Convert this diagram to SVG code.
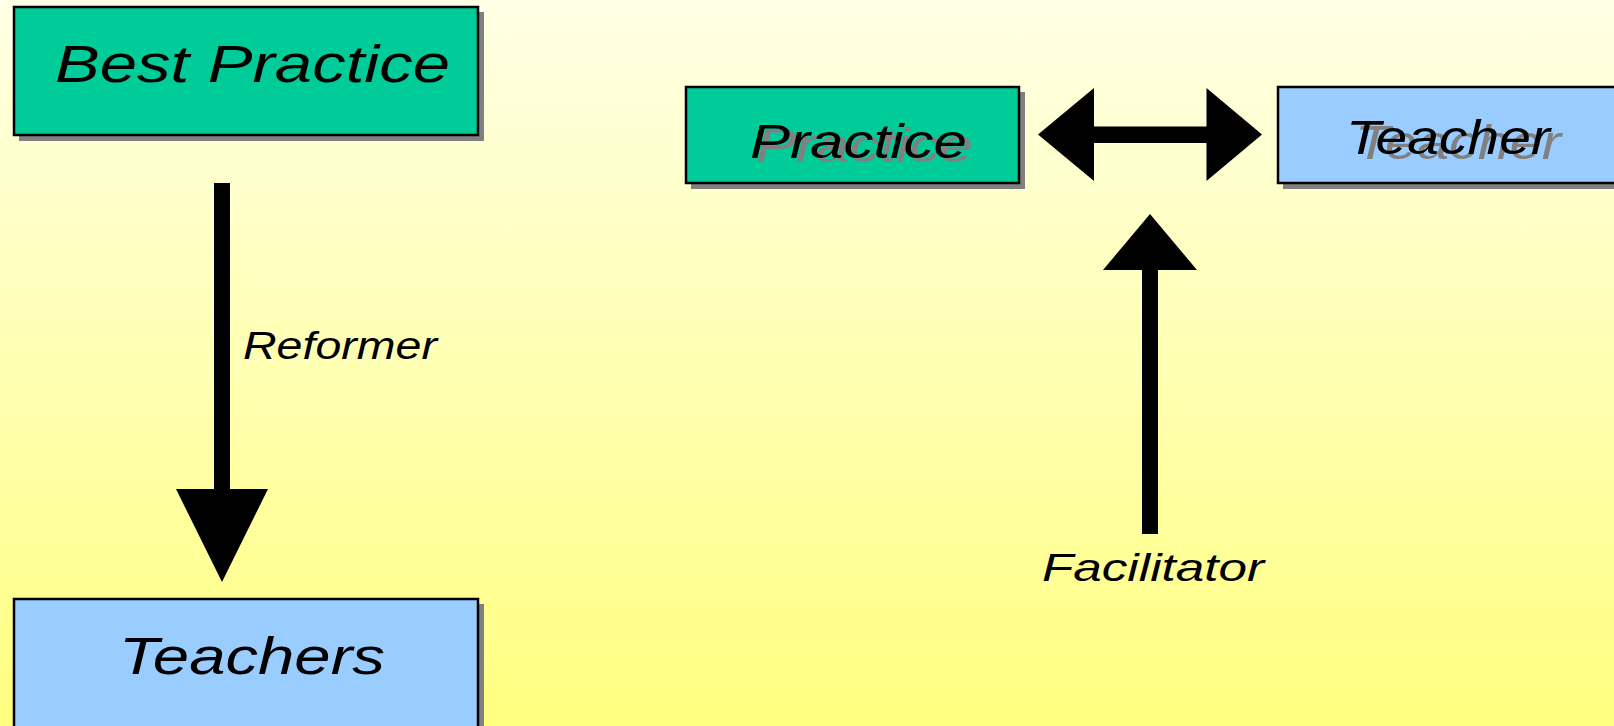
<svg xmlns="http://www.w3.org/2000/svg" width="1614" height="726" viewBox="0 0 1614 726">
  <defs>
    <linearGradient id="bg" x1="0" y1="0" x2="0" y2="1">
      <stop offset="0" stop-color="#FFFFE6"/>
      <stop offset="1" stop-color="#FFFF80"/>
    </linearGradient>
    <style>
      .box-green { fill: #00CC99; stroke: #000000; stroke-width: 2.5; }
      .box-blue { fill: #99CCFF; stroke: #000000; stroke-width: 2.5; }
      .shadow { fill: #808080; }
      .lbl { font-family: "Liberation Sans", Arial, sans-serif; font-style: italic; fill: #000000; }
      .lbl-shadow { font-family: "Liberation Sans", Arial, sans-serif; font-style: italic; fill: #808080; }
      .arrow { fill: #000000; stroke: none; }
    </style>
  </defs>

  <rect x="0" y="0" width="1614" height="726" fill="url(#bg)"/>

  <g id="node-best-practice">
    <rect class="shadow" x="19" y="12" width="465" height="129"/>
    <rect class="box-green" x="14" y="7" width="464" height="128"/>
    <text class="lbl" x="55" y="82" font-size="51" textLength="395" lengthAdjust="spacingAndGlyphs">Best Practice</text>
  </g>

  <g id="node-teachers">
    <rect class="shadow" x="19" y="604" width="465" height="130"/>
    <rect class="box-blue" x="14" y="599" width="464" height="135"/>
    <text class="lbl" x="119" y="674" font-size="52" textLength="266" lengthAdjust="spacingAndGlyphs">Teachers</text>
  </g>

  <g id="node-practice">
    <rect class="shadow" x="691" y="92" width="334" height="97"/>
    <rect class="box-green" x="686" y="87" width="333" height="96"/>
    <text class="lbl-shadow" x="756" y="162" font-size="49" textLength="217" lengthAdjust="spacingAndGlyphs">Practice</text>
    <text class="lbl" x="750" y="158" font-size="49" textLength="217" lengthAdjust="spacingAndGlyphs">Practice</text>
  </g>

  <g id="node-teacher">
    <rect class="shadow" x="1283" y="92" width="340" height="97"/>
    <rect class="box-blue" x="1278" y="87" width="340" height="96"/>
    <text class="lbl-shadow" x="1355" y="159" font-size="47.5" textLength="206" lengthAdjust="spacingAndGlyphs">Teacher</text>
    <text class="lbl" x="1346" y="154" font-size="47.5" textLength="204" lengthAdjust="spacingAndGlyphs">Teacher</text>
  </g>

  <g id="connectors">
    <polygon class="arrow" points="214,183 230,183 230,489 268,489 222,582 176,489 214,489"/>
    <polygon class="arrow" points="1142,534 1158,534 1158,270 1197,270 1150,214 1103,270 1142,270"/>
    <polygon class="arrow" points="1038,134.5 1094,88 1094,126.5 1206.5,126.5 1206.5,88 1262,134.5 1206.5,181 1206.5,143 1094,143 1094,181"/>
    <text class="lbl" x="243" y="359" font-size="39" textLength="194" lengthAdjust="spacingAndGlyphs">Reformer</text>
    <text class="lbl" x="1042" y="581" font-size="38" textLength="222" lengthAdjust="spacingAndGlyphs">Facilitator</text>
  </g>
</svg>
